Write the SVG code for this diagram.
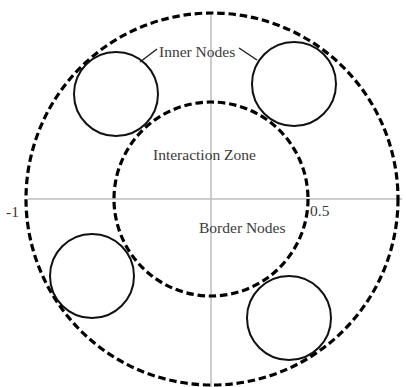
<svg xmlns="http://www.w3.org/2000/svg" width="406" height="387" viewBox="0 0 406 387">
<style>
.axis{stroke:#bdbdbd;stroke-width:1.5;fill:none}
.zone{fill:none;stroke:#000;stroke-width:3.2;stroke-dasharray:7.5 3.8}
.node{fill:none;stroke:#111;stroke-width:2}
.lead{stroke:#222;stroke-width:1.5;fill:none}
.lbl{font-family:'Liberation Serif','Times New Roman','DejaVu Serif',serif;font-size:15.5px;fill:#3a3a3a}
</style>
<rect width="406" height="387" fill="#fff"/>
<g id="axes">
<line class="axis" x1="211" y1="12" x2="211" y2="387"/>
<line class="axis" x1="28" y1="199" x2="402" y2="199"/>
<text class="lbl" x="6" y="217">-1</text>
<text class="lbl" x="310" y="216">0.5</text>
</g>
<g id="outer-zone"><circle class="zone" cx="212" cy="199" r="186"/></g>
<g id="interaction-zone"><circle class="zone" cx="211" cy="199" r="97"/>
<text class="lbl" x="153" y="160">Interaction Zone</text></g>
<g id="node-tl"><circle class="node" cx="116" cy="94" r="42"/></g>
<g id="node-tr"><circle class="node" cx="294" cy="84" r="42"/></g>
<g id="node-bl"><circle class="node" cx="92" cy="276" r="42"/></g>
<g id="node-br"><circle class="node" cx="289" cy="318" r="42"/></g>
<g id="connectors">
<line class="lead" x1="140" y1="62" x2="157" y2="49"/>
<line class="lead" x1="239" y1="48" x2="257" y2="60"/>
</g>
<g id="labels">
<text class="lbl" x="159" y="57">Inner Nodes</text>
<text class="lbl" x="199" y="233">Border Nodes</text>
</g>
</svg>
